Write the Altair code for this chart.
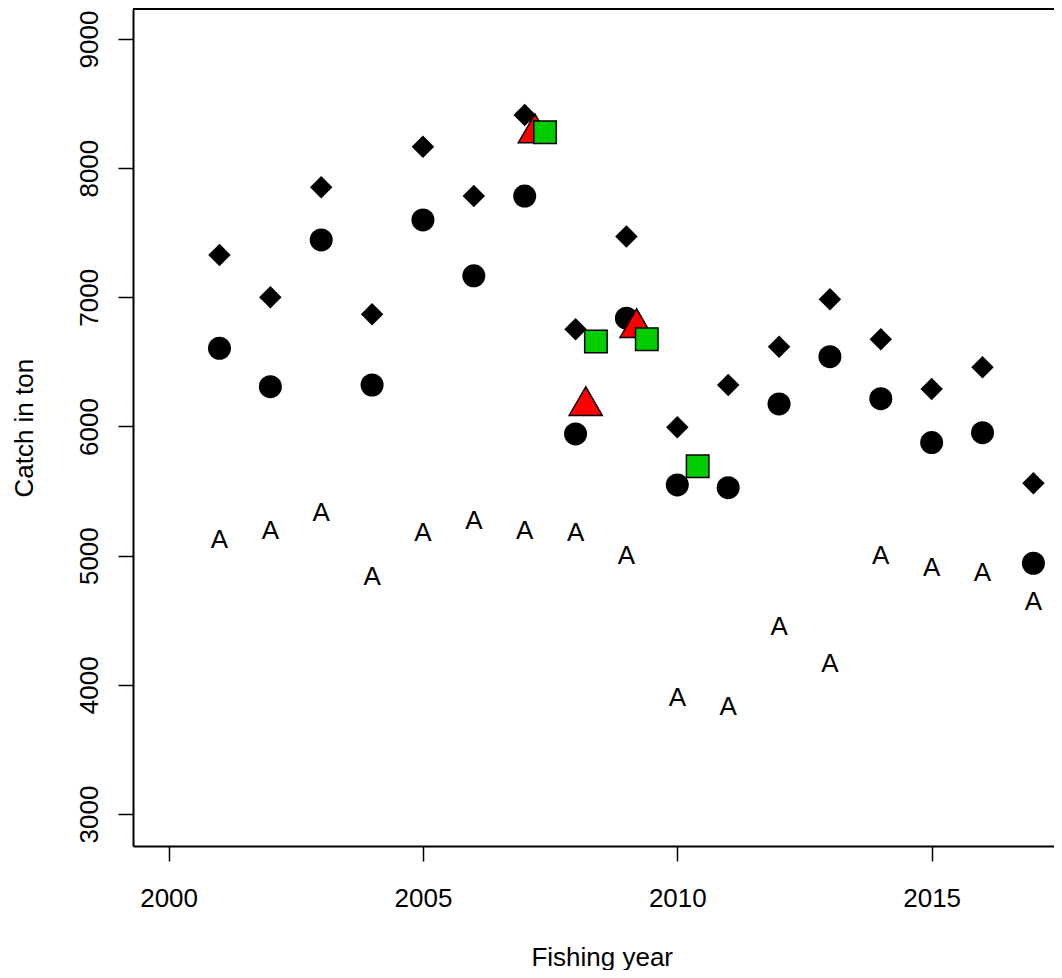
import altair as alt
import pandas as pd

years = list(range(2001, 2018))
diamond_vals = [7328, 7000, 7852, 6869, 8166, 7784, 8411, 6752, 7470, 5994,
                6321, 6618, 6985, 6675, 6290, 6458, 5560]
circle_vals = [6605, 6308, 7444, 6321, 7599, 7166, 7784, 5942, 6838, 5547,
               5526, 6174, 6540, 6215, 5875, 5952, 4941]
a_vals = [5131, 5201, 5343, 4848, 5188, 5279, 5201, 5188, 5009, 3912,
          3841, 4461, 4174, 5009, 4918, 4879, 4653]
tri_years = [2007.2, 2008.2, 2009.2]
tri_vals = [8270, 6159, 6763]
sq_years = [2007.4, 2008.4, 2009.4, 2010.4]
sq_vals = [8277, 6657, 6676, 5692]

x_ticks = [2000, 2005, 2010, 2015]
y_ticks = [3000, 4000, 5000, 6000, 7000, 8000, 9000]

FONT = "Liberation Sans"
W, H = 921, 837

df_d = pd.DataFrame({"year": years, "catch": diamond_vals})
df_c = pd.DataFrame({"year": years, "catch": circle_vals})
df_a = pd.DataFrame({"year": years, "catch": a_vals})
df_t = pd.DataFrame({"year": tri_years, "catch": tri_vals})
df_s = pd.DataFrame({"year": sq_years, "catch": sq_vals})

xs = alt.Scale(domain=[1999.3, 2017.405], nice=False, zero=False)
ys = alt.Scale(domain=[2752, 9232], nice=False, zero=False)

x_axis = alt.Axis(
    values=x_ticks, format="d", grid=False,
    labelFont=FONT, labelFontSize=26, labelColor="black",
    labelPadding=45.7, labelBaseline="alphabetic", labelFlush=False, labelOverlap=False,
    tickSize=15, tickColor="black", tickWidth=1.5,
    domainColor="black", domainWidth=2,
    title="Fishing year", titleFont=FONT, titleFontSize=26, titleFontWeight="normal",
    titleColor="black", titleX=468.7, titleY=119, titleBaseline="alphabetic",
    titleAlign="center",
)
y_axis = alt.Axis(
    values=y_ticks, format="d", grid=False,
    labelFont=FONT, labelFontSize=26, labelColor="black",
    labelAngle=270, labelAlign="center", labelBaseline="alphabetic",
    labelPadding=20.7, labelFlush=False, labelOverlap=False,
    tickSize=15, tickColor="black", tickWidth=1.5,
    domainColor="black", domainWidth=2,
    title="Catch in ton", titleFont=FONT, titleFontSize=26, titleFontWeight="normal",
    titleColor="black", titleAngle=270, titleX=-100.3, titleY=418.7,
    titleAlign="center", titleBaseline="alphabetic",
)

X = alt.X("year:Q", scale=xs, axis=x_axis)
Y = alt.Y("catch:Q", scale=ys, axis=y_axis)

circles = alt.Chart(df_c).mark_point(
    shape="circle", filled=True, color="black", size=529, opacity=1, strokeWidth=0
).encode(x=X, y=Y)

diamonds = alt.Chart(df_d).mark_point(
    shape="diamond", filled=True, color="black", size=505, opacity=1, strokeWidth=0
).encode(x=X, y=Y)

letters = alt.Chart(df_a).mark_text(
    text="A", font=FONT, fontSize=26, color="black", align="center",
    baseline="middle", dy=1.5
).encode(x=X, y=Y)

triangles = alt.Chart(df_t).mark_point(
    shape="triangle-up", filled=True, fill="#FF0000", stroke="black",
    strokeWidth=1.5, size=1100, opacity=1, yOffset=-4.8
).encode(x=X, y=Y)

squares = alt.Chart(df_s).mark_point(
    shape="square", filled=True, fill="#00CD00", stroke="black",
    strokeWidth=1.5, size=506, opacity=1
).encode(x=X, y=Y)

top_line = alt.Chart(df_c).mark_rule(color="black", strokeWidth=2).encode(
    x=alt.value(0), x2=alt.value(W), y=alt.value(0)
)

chart = alt.layer(circles, diamonds, letters, triangles, squares, top_line).properties(
    width=W, height=H,
    autosize=alt.AutoSizeParams(type="none"),
    padding={"left": 125, "top": 1, "right": 0, "bottom": 124},
    background="white",
).configure_view(strokeWidth=0)

chart.save("out.html", embed_options={"renderer": "svg", "actions": False})
